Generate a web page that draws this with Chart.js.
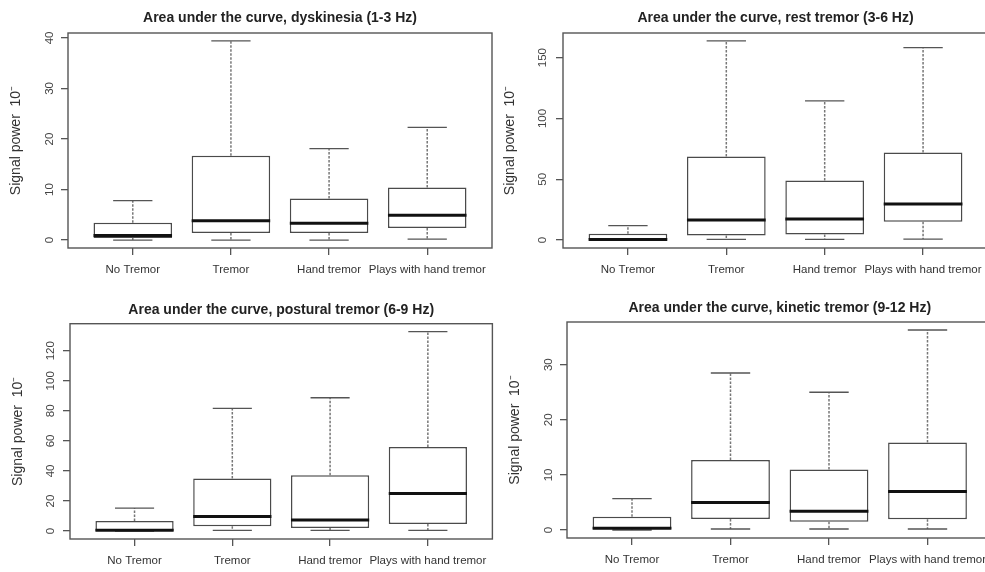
<!DOCTYPE html>
<html>
<head>
<meta charset="utf-8">
<script src="https://cdn.jsdelivr.net/npm/chart.js@4.4.0/dist/chart.umd.min.js"></script>
<style>
body { margin: 0; background: #fff; overflow: hidden; width: 985px; height: 572px; position: relative; }
canvas { position: absolute; }
</style>
</head>
<body>
<canvas id="dysk" width="494" height="290" style="left:0;top:0"></canvas>
<canvas id="rest" width="500" height="290" style="left:492px;top:0"></canvas>
<canvas id="post" width="494" height="282" style="left:0;top:290px"></canvas>
<canvas id="kin" width="504" height="282" style="left:492px;top:290px"></canvas>
<script>
//groups on the x axis
var groups = ['No Tremor', 'Tremor', 'Hand tremor', 'Plays with hand tremor'];

//dyskinesia (1-3 Hz)
var dyskLow = [0, 0, 0, 0.2];
var dyskQ1 = [0.4, 1.4, 1.4, 2.4];
var dyskMed = [0.9, 3.8, 3.3, 4.9];
var dyskQ3 = [3.4, 16.7, 8.2, 10.4];
var dyskHigh = [7.8, 39.4, 18.1, 22.3];
var dyskTicks = [0, 10, 20, 30, 40];

//rest tremor (3-6 Hz)
var restLow = [0, 0.5, 0.5, 0.8];
var restQ1 = [0.2, 3.8, 4.6, 15.1];
var restMed = [0.5, 16.4, 17.2, 29.6];
var restQ3 = [5.2, 68.7, 49.0, 72.0];
var restHigh = [11.8, 163.7, 114.4, 158.2];
var restTicks = [0, 50, 100, 150];

//postural tremor (6-9 Hz)
var postLow = [0, 0.45, 0.45, 0.45];
var postQ1 = [0.1, 3.1, 2.0, 4.7];
var postMed = [0.45, 9.6, 7.3, 24.9];
var postQ3 = [6.7, 34.9, 37.1, 56.0];
var postHigh = [15.3, 81.6, 88.7, 132.7];
var postTicks = [0, 20, 40, 60, 80, 100, 120];

//kinetic tremor (9-12 Hz)
var kinLow = [0, 0.18, 0.18, 0.18];
var kinQ1 = [0.12, 2.0, 1.5, 1.94];
var kinMed = [0.3, 5.0, 3.4, 7.0];
var kinQ3 = [2.4, 12.7, 11.0, 15.9];
var kinHigh = [5.7, 28.5, 25.0, 36.3];
var kinTicks = [0, 10, 20, 30];

var fontFamily = '"Liberation Sans", Arial, sans-serif';

//draws whiskers, caps, medians, the frame and the title of one panel
function boxParts(title, low, med, high, q1, q3, lay) {
    return {
        id: 'boxparts',
        afterDatasetsDraw: function(chart) {
            var ctx = chart.ctx;
            var x = chart.scales.x;
            var y = chart.scales.y;
            ctx.save();
            for (var i = 0; i < med.length; i++) {
                var c = i + 1;
                var cx = x.getPixelForValue(c);

                //dashed whiskers
                ctx.strokeStyle = '#777';
                ctx.lineWidth = 1.5;
                ctx.setLineDash([2.5, 1.5]);
                ctx.beginPath();
                ctx.moveTo(cx, y.getPixelForValue(q3[i]));
                ctx.lineTo(cx, y.getPixelForValue(high[i]));
                ctx.moveTo(cx, y.getPixelForValue(q1[i]));
                ctx.lineTo(cx, y.getPixelForValue(low[i]));
                ctx.stroke();

                //caps
                ctx.setLineDash([]);
                ctx.strokeStyle = '#555';
                ctx.lineWidth = 1.3;
                ctx.beginPath();
                ctx.moveTo(x.getPixelForValue(c - 0.2), y.getPixelForValue(high[i]));
                ctx.lineTo(x.getPixelForValue(c + 0.2), y.getPixelForValue(high[i]));
                ctx.moveTo(x.getPixelForValue(c - 0.2), y.getPixelForValue(low[i]));
                ctx.lineTo(x.getPixelForValue(c + 0.2), y.getPixelForValue(low[i]));
                ctx.stroke();

                //median
                ctx.strokeStyle = '#111';
                ctx.lineWidth = 3;
                ctx.beginPath();
                ctx.moveTo(x.getPixelForValue(c - 0.4), y.getPixelForValue(med[i]));
                ctx.lineTo(x.getPixelForValue(c + 0.4), y.getPixelForValue(med[i]));
                ctx.stroke();
            }
            ctx.restore();
        },
        afterDraw: function(chart) {
            var ctx = chart.ctx;
            var a = chart.chartArea;
            ctx.save();
            ctx.strokeStyle = '#555';
            ctx.lineWidth = 1.4;
            ctx.strokeRect(a.left, a.top, a.right - a.left, a.bottom - a.top);
            ctx.fillStyle = '#222';
            ctx.font = 'bold 14px ' + fontFamily;
            ctx.textAlign = 'center';
            ctx.textBaseline = 'middle';
            ctx.fillText(title, (a.left + a.right) / 2, a.top - lay.ty);
            ctx.restore();
        }
    };
}

//builds one boxplot panel
function makeChart(id, title, low, q1, med, q3, high, yTicks, lay) {
    //R style axis: data range plus 4% on each side
    var lo = Math.min.apply(null, low);
    var hi = Math.max.apply(null, high);
    var ext = (hi - lo) * 0.04;

    var boxes = [];
    for (var i = 0; i < groups.length; i++) {
        boxes.push({ x: i + 1, y: [q1[i], q3[i]] });
    }

    new Chart(document.getElementById(id), {
        type: 'bar',
        data: {
            datasets: [{
                data: boxes,
                backgroundColor: '#fff',
                borderColor: '#4a4a4a',
                borderWidth: 1.5,
                borderSkipped: false,
                barPercentage: 0.8,
                categoryPercentage: 1
            }]
        },
        options: {
            responsive: false,
            animation: false,
            layout: { padding: { top: lay.top, right: lay.right, left: 0, bottom: 0 } },
            plugins: {
                legend: { display: false },
                tooltip: { enabled: false }
            },
            scales: {
                x: {
                    type: 'linear',
                    min: 0.34,
                    max: 4.66,
                    offset: false,
                    afterBuildTicks: function(s) {
                        s.ticks = groups.map(function(g, i) { return { value: i + 1 }; });
                    },
                    afterFit: function(s) { s.height = lay.xh; },
                    grid: { drawOnChartArea: false, offset: false, tickLength: 7, color: '#555', lineWidth: 1.3 },
                    border: { display: false },
                    ticks: {
                        autoSkip: false,
                        maxRotation: 0,
                        padding: 7.5,
                        color: '#333',
                        font: { family: fontFamily, size: 11.5 },
                        callback: function(v) { return groups[v - 1]; }
                    }
                },
                y: {
                    min: lo - ext,
                    max: hi + ext,
                    afterBuildTicks: function(s) {
                        s.ticks = yTicks.map(function(v) { return { value: v }; });
                    },
                    afterFit: function(s) { s.width = lay.yw; },
                    grid: { drawOnChartArea: false, tickLength: 7, color: '#555', lineWidth: 1.3 },
                    border: { display: false },
                    ticks: {
                        minRotation: 90,
                        maxRotation: 90,
                        crossAlign: 'center',
                        padding: lay.tp,
                        color: '#444',
                        font: { family: fontFamily, size: 11.5 }
                    },
                    title: {
                        display: true,
                        text: 'Signal power  10\u207B',
                        padding: { top: lay.ytp, bottom: 0 },
                        color: '#333',
                        font: { family: fontFamily, size: 14 }
                    }
                }
            }
        },
        plugins: [boxParts(title, low, med, high, q1, q3, lay)]
    });
}

makeChart('dysk', 'Area under the curve, dyskinesia (1-3 Hz)',
    dyskLow, dyskQ1, dyskMed, dyskQ3, dyskHigh, dyskTicks,
    { top: 33, right: 2, yw: 68, xh: 42, tp: 5, ytp: 7.6, ty: 14.7 });
makeChart('rest', 'Area under the curve, rest tremor (3-6 Hz)',
    restLow, restQ1, restMed, restQ3, restHigh, restTicks,
    { top: 33, right: 4, yw: 71, xh: 42, tp: 3.5, ytp: 9.6, ty: 14.7 });
makeChart('post', 'Area under the curve, postural tremor (6-9 Hz)',
    postLow, postQ1, postMed, postQ3, postHigh, postTicks,
    { top: 33.7, right: 1, yw: 70, xh: 33, tp: 2.5, ytp: 9.9, ty: 13.7 });
makeChart('kin', 'Area under the curve, kinetic tremor (9-12 Hz)',
    kinLow, kinQ1, kinMed, kinQ3, kinHigh, kinTicks,
    { top: 32, right: 3.5, yw: 75, xh: 34, tp: 5, ytp: 14.6, ty: 13.7 });
</script>
</body>
</html>
